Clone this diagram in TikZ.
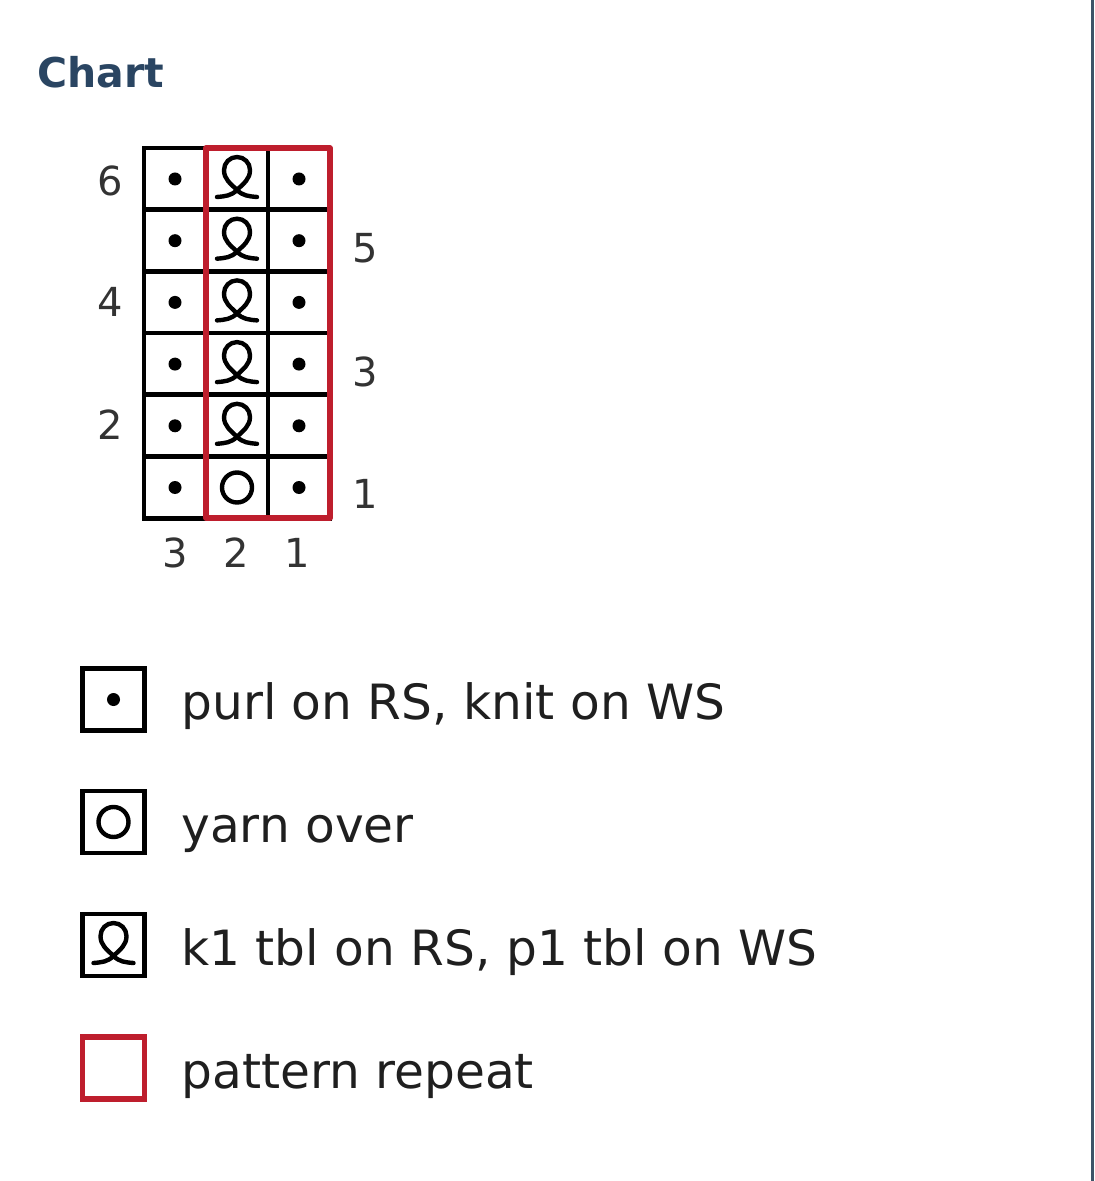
\documentclass[tikz,border=0pt]{standalone}
\usepackage{fontspec}
\setmainfont{DejaVu Sans}
\definecolor{chartblue}{HTML}{2A4562}
\definecolor{repeatred}{HTML}{BE1E2D}
\definecolor{numgray}{HTML}{333333}
\definecolor{edgeblue}{HTML}{3E5468}

\begin{document}
\begin{tikzpicture}[x=0.5pt, y=0.5pt,
   cellline/.style={line width=2.3pt, line cap=rect},
   repeatframe/.style={draw=repeatred, line width=2.7pt, line join=round},
   keybox/.style={draw, line width=2.3pt, minimum size=31pt, inner sep=0pt},
   symbol/.style={line width=2.2pt, line cap=round},
   rownum/.style={text=numgray, inner sep=0pt, font=\fontsize{20}{24}\selectfont},
   legendtext/.style={anchor=base west, inner sep=0pt, text=black!88, font=\fontsize{24.3}{29}\selectfont},
   purl/.pic={\fill (0,0) circle (6.5);},
   yarnover/.pic={\draw[symbol] (0,0) circle (15);},
   tbl/.pic={\draw[symbol] (-20,-18) to[out=5,in=225] (0,-11) to[out=45,in=-90] (13,9)
             arc (0:180:13) to[out=-90,in=135] (0,-11) to[out=-45,in=175] (20,-18);}]

\useasboundingbox (0,0) rectangle (1094,-1181);
\draw[edgeblue, line width=1.5pt] (1092,0) -- (1092,-1181);

\node[anchor=base west, inner sep=0pt, text=chartblue, font=\bfseries\fontsize{20.5}{25}\selectfont] (title) at (37,-88) {Chart};

% chart grid
\foreach \r in {0,...,6}
  \draw[cellline] (144,-148-61.7*\r) -- (330,-148-61.7*\r);
\foreach \c in {0,...,3}
  \draw[cellline] (144+62*\c,-148) -- (144+62*\c,-518);

% stitches
\foreach \r in {0,...,5} {
  \pic at (175,-179-61.7*\r) {purl};
  \pic at (299,-179-61.7*\r) {purl};
}
\foreach \r in {0,...,4}
  \pic at (237,-179-61.7*\r) {tbl};
\pic at (237,-487.5) {yarnover};

\draw[repeatframe] (206,-148) rectangle (330,-518);

% row and stitch numbers
\node[rownum] (row6) at (110,-181) {6};
\node[rownum] (row4) at (110,-302) {4};
\node[rownum] (row2) at (110,-425) {2};
\node[rownum] (row5) at (365,-248) {5};
\node[rownum] (row3) at (365,-372) {3};
\node[rownum] (row1) at (365,-494) {1};
\node[rownum] (st3) at (175,-553) {3};
\node[rownum] (st2) at (236,-553) {2};
\node[rownum] (st1) at (297,-553) {1};

% legend
\node[keybox] (keypurl) at (113.5,-699.5) {};
\pic at (keypurl) {purl};
\node[legendtext] (txtpurl) at (181,-719) {purl on RS, knit on WS};

\node[keybox] (keyyo) at (113.5,-822) {};
\pic at (keyyo) {yarnover};
\node[legendtext] (txtyo) at (181,-842) {yarn over};

\node[keybox] (keytbl) at (113.5,-945) {};
\pic at (keytbl) {tbl};
\node[legendtext] (txttbl) at (181,-965) {k1 tbl on RS, p1 tbl on WS};

\node[keybox, draw=repeatred, line width=2.7pt] (keyrep) at (113.5,-1068) {};
\node[legendtext] (txtrep) at (181,-1088) {pattern repeat};

\end{tikzpicture}
\end{document}
